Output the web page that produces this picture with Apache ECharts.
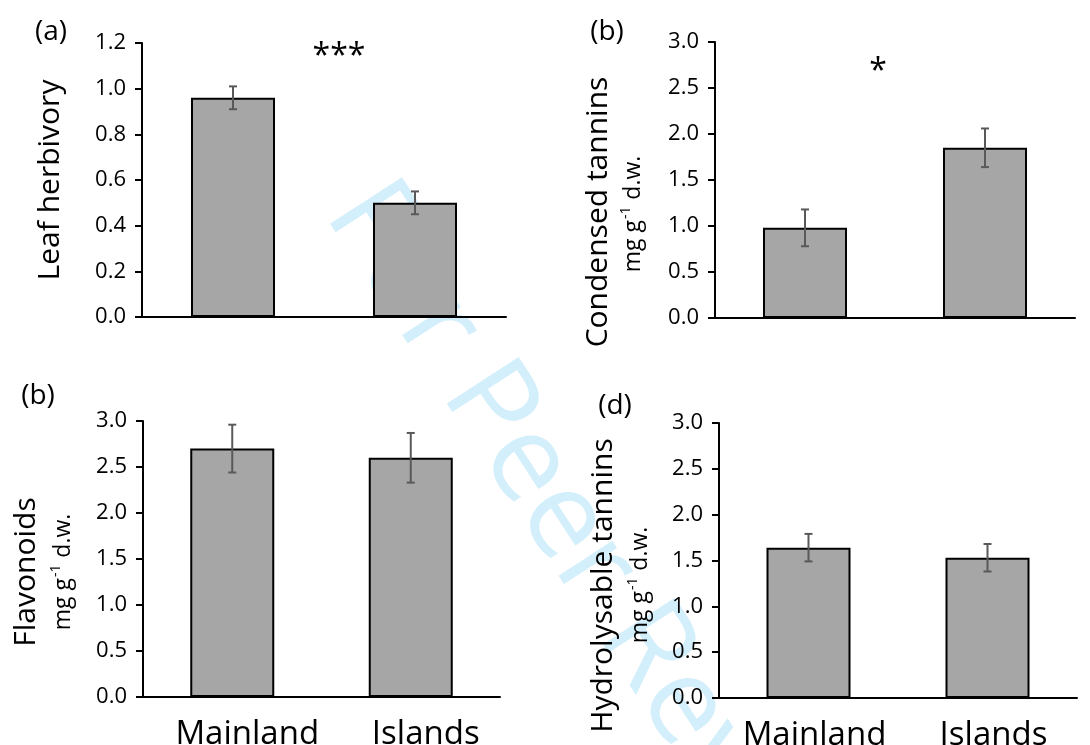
<!DOCTYPE html>
<html>
<head>
<meta charset="utf-8">
<script src="https://cdn.jsdelivr.net/npm/echarts@6/dist/echarts.min.js"></script>
<style>
  html, body { margin: 0; padding: 0; background: #fff; }
  #chart { width: 1090px; height: 745px; }
</style>
</head>
<body>
<div id="chart"></div>
<script>
const groups = ['Mainland', 'Islands'];
// means and error bars
const herbivory = [0.96, 0.50];
const herbivoryErr = [0.05, 0.05];
const condensed = [0.98, 1.85];
const condensedErr = [0.20, 0.21];
const flavonoids = [2.70, 2.60];
const flavonoidsErr = [0.26, 0.27];
const hydrolysable = [1.64, 1.53];
const hydrolysableErr = [0.15, 0.15];

const FONT = '"Open Sans", sans-serif';

const panels = [
	{ tag: '(a)', name: 'Leaf herbivory', vals: herbivory, err: herbivoryErr, max: 1.2, step: 0.2, labels: false,
		grid: { left: 142, top: 43, width: 364, height: 274 }, gap: 75, shift: 0, unit: null, labelPad: 0 },
	{ tag: '(b)', name: 'Condensed tannins', vals: condensed, err: condensedErr, max: 3, step: 0.5, labels: false,
		grid: { left: 715, top: 42, width: 360, height: 276 }, gap: 100, shift: 64, unit: [633, 214], labelPad: 0 },
	{ tag: '(b)', name: 'Flavonoids', vals: flavonoids, err: flavonoidsErr, max: 3, step: 0.5, labels: true,
		grid: { left: 143, top: 421, width: 357, height: 276 }, gap: 100, shift: 26, unit: [63, 572], labelPad: 30 },
	{ tag: '(d)', name: 'Hydrolysable tannins', vals: hydrolysable, err: hydrolysableErr, max: 3, step: 0.5, labels: true,
		grid: { left: 719, top: 423, width: 358, height: 275 }, gap: 99, shift: 50, unit: [640, 585], labelPad: 12 }
];

function errorBars(params, api) {
	const x = api.value(0);
	const y = api.value(1);
	const e = api.value(2);
	const hi = api.coord([x, y + e]);
	const lo = api.coord([x, y - e]);
	const hw = 4;
	const st = { stroke: '#595959', lineWidth: 2 };
	return {
		type: 'group',
		children: [
			{ type: 'line', shape: { x1: hi[0], y1: hi[1], x2: lo[0], y2: lo[1] }, style: st },
			{ type: 'line', shape: { x1: hi[0] - hw, y1: hi[1], x2: hi[0] + hw, y2: hi[1] }, style: st },
			{ type: 'line', shape: { x1: lo[0] - hw, y1: lo[1], x2: lo[0] + hw, y2: lo[1] }, style: st }
		]
	};
}

// "mg g-1 d.w." unit line, rotated, with a real superscript
const ctx = document.createElement('canvas').getContext('2d');
function textWidth(str, font) {
	ctx.font = font;
	return ctx.measureText(str).width;
}
const UNIT_FONT = '23px "Open Sans", sans-serif';
const SUP_FONT = '14px "Open Sans", sans-serif';
function unitLabel(cx, cy) {
	const w1 = textWidth('mg g', UNIT_FONT);
	const w2 = textWidth('-1', SUP_FONT);
	const w3 = textWidth(' d.w.', UNIT_FONT);
	const total = w1 + w2 + w3 + 2;
	const x0 = -total / 2;
	return {
		type: 'group', x: cx, y: cy, rotation: Math.PI / 2,
		children: [
			{ type: 'text', x: x0, y: 0, style: { text: 'mg g', font: UNIT_FONT, fill: '#000', textVerticalAlign: 'middle' } },
			{ type: 'text', x: x0 + w1 + 1, y: -7, style: { text: '-1', font: SUP_FONT, fill: '#000', textVerticalAlign: 'middle' } },
			{ type: 'text', x: x0 + w1 + w2 + 2, y: 0, style: { text: ' d.w.', font: UNIT_FONT, fill: '#000', textVerticalAlign: 'middle' } }
		]
	};
}

const grid = [], xAxis = [], yAxis = [], series = [];
const graphic = [
	{
		type: 'text', z: -10, x: 302, y: 228, rotation: -57 * Math.PI / 180,
		style: { text: 'For Peer Review', fill: '#d3effc', font: '120px "Open Sans", sans-serif', textVerticalAlign: 'bottom' }
	},
	{ type: 'text', x: 51, y: 32, style: { text: '(a)', fill: '#000', font: '28px "Open Sans", sans-serif', textAlign: 'center', textVerticalAlign: 'middle' } },
	{ type: 'text', x: 607, y: 32, style: { text: '(b)', fill: '#000', font: '28px "Open Sans", sans-serif', textAlign: 'center', textVerticalAlign: 'middle' } },
	{ type: 'text', x: 38, y: 396, style: { text: '(b)', fill: '#000', font: '28px "Open Sans", sans-serif', textAlign: 'center', textVerticalAlign: 'middle' } },
	{ type: 'text', x: 615, y: 406, style: { text: '(d)', fill: '#000', font: '28px "Open Sans", sans-serif', textAlign: 'center', textVerticalAlign: 'middle' } },
	{ type: 'text', x: 339, y: 57, style: { text: '***', fill: '#000', font: '32px "Open Sans", sans-serif', textAlign: 'center', textVerticalAlign: 'middle' } },
	{ type: 'text', x: 878, y: 72, style: { text: '*', fill: '#000', font: '32px "Open Sans", sans-serif', textAlign: 'center', textVerticalAlign: 'middle' } }
];

panels.forEach((p, i) => {
	grid.push(Object.assign({ outerBoundsMode: 'none', containLabel: false }, p.grid));
	xAxis.push({
		type: 'category',
		gridIndex: i,
		data: groups,
		axisLine: { lineStyle: { color: '#000', width: 2 } },
		axisTick: { show: false },
		axisLabel: { show: p.labels, interval: 0, color: '#000', fontSize: 33, fontFamily: FONT, margin: 21,
			padding: [0, 0, 0, p.labelPad] }
	});
	yAxis.push({
		type: 'value',
		gridIndex: i,
		min: 0,
		max: p.max,
		interval: p.step,
		name: p.name,
		nameLocation: 'middle',
		nameRotate: 90,
		nameGap: p.gap,
		nameTextStyle: {
			color: '#000', fontFamily: FONT, fontSize: 30, lineHeight: 34,
			padding: [0, p.shift, 0, 0]
		},
		splitLine: { show: false },
		axisLine: { show: true, lineStyle: { color: '#000', width: 2 } },
		axisTick: { show: true, length: 7, lineStyle: { color: '#000', width: 2 } },
		axisLabel: {
			color: '#000', fontSize: 22, fontFamily: FONT, margin: 16,
			formatter: v => v.toFixed(1)
		}
	});
	series.push({
		type: 'bar',
		xAxisIndex: i,
		yAxisIndex: i,
		data: p.vals,
		barWidth: 84,
		itemStyle: { color: '#a6a6a6', borderColor: '#000', borderWidth: 2 },
		silent: true
	});
	series.push({
		type: 'custom',
		xAxisIndex: i,
		yAxisIndex: i,
		data: groups.map((g, k) => [k, p.vals[k], p.err[k]]),
		renderItem: errorBars,
		z: 5,
		silent: true
	});
	if (p.unit) {
		graphic.push(unitLabel(p.unit[0], p.unit[1]));
	}
});

const chart = echarts.init(document.getElementById('chart'));
chart.setOption({
	animation: false,
	backgroundColor: '#fff',
	grid: grid,
	xAxis: xAxis,
	yAxis: yAxis,
	series: series,
	graphic: graphic
});
</script>
</body>
</html>
